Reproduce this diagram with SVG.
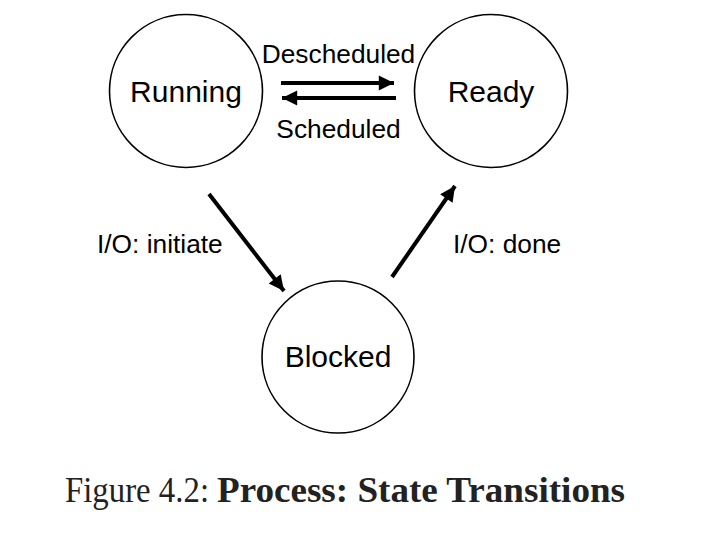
<svg xmlns="http://www.w3.org/2000/svg" width="714" height="546" viewBox="0 0 714 546">
<defs>
<style>
.node circle{fill:#fff;stroke:#000;stroke-width:1.6}
.node text{font-family:"Liberation Sans",Arial,sans-serif;font-size:30px;text-anchor:middle;fill:#000}
.lbl{font-family:"Liberation Sans",Arial,sans-serif;font-size:26.3px;fill:#000}
.edge{stroke:#000;stroke-width:4;fill:none;marker-end:url(#ah)}
.cap{font-family:"Liberation Serif","Times New Roman",serif;font-size:36px;fill:#222}
</style>
<marker id="ah" viewBox="0 0 10 10" refX="10" refY="5" markerWidth="4.4" markerHeight="3.8" markerUnits="strokeWidth" orient="auto">
<path d="M0,0 L10,5 L0,10 z" fill="#000"/>
</marker>
</defs>
<rect width="714" height="546" fill="#fff"/>
<g id="running" class="node"><circle cx="186" cy="91" r="76.5"/><text x="186" y="102">Running</text></g>
<g id="ready" class="node"><circle cx="491" cy="91" r="76.5"/><text x="491" y="102">Ready</text></g>
<g id="blocked" class="node"><circle cx="338" cy="357" r="76"/><text x="338" y="367">Blocked</text></g>
<g id="connectors">
<line class="edge" x1="281" y1="83" x2="394" y2="83"/>
<line class="edge" x1="396" y1="98" x2="282" y2="98"/>
<line class="edge" x1="209" y1="194" x2="284" y2="291"/>
<line class="edge" x1="392" y1="277" x2="455" y2="186"/>
</g>
<g id="labels">
<text class="lbl" x="338.5" y="63" text-anchor="middle">Descheduled</text>
<text class="lbl" x="338.5" y="138" text-anchor="middle">Scheduled</text>
<text class="lbl" x="97" y="253">I/O: initiate</text>
<text class="lbl" x="453" y="253">I/O: done</text>
</g>
<text class="cap" x="65" y="502" textLength="144" lengthAdjust="spacingAndGlyphs">Figure 4.2:</text>
<text class="cap" x="217" y="502" font-weight="bold" textLength="408" lengthAdjust="spacingAndGlyphs">Process: State Transitions</text>
</svg>
